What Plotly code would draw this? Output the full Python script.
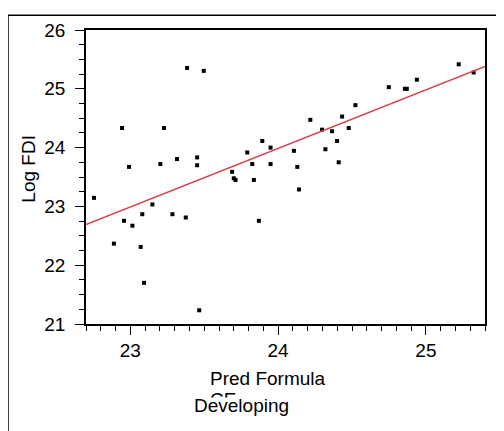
import plotly.graph_objects as go

pred = [22.754, 22.889, 22.944, 22.957, 22.991, 23.014, 23.07, 23.081, 23.093, 23.149,
        23.203, 23.228, 23.285, 23.316, 23.375, 23.384, 23.452, 23.452, 23.466, 23.497,
        23.689, 23.70, 23.712, 23.791, 23.825, 23.836, 23.87, 23.893, 23.949, 23.949,
        24.107, 24.13, 24.141, 24.218, 24.297, 24.32, 24.365, 24.399, 24.41, 24.433,
        24.478, 24.523, 24.749, 24.858, 24.871, 24.939, 25.222, 25.323]
log_fdi = [23.145, 22.367, 24.333, 22.755, 23.672, 22.672, 22.311, 22.867, 21.70, 23.033,
           23.72, 24.333, 22.867, 23.805, 22.811, 25.355, 23.833, 23.70, 21.233, 25.305,
           23.588, 23.478, 23.45, 23.917, 23.72, 23.45, 22.755, 24.112, 24.0, 23.72,
           23.945, 23.672, 23.288, 24.472, 24.305, 23.972, 24.278, 24.112, 23.75, 24.528,
           24.333, 24.722, 25.028, 25.0, 25.0, 25.155, 25.417, 25.278]
fit_x = [22.7, 25.4]
fit_y = [22.69, 25.38]

FONT = "Liberation Sans, Arial, sans-serif"
FS = 19

fig = go.Figure()
fig.add_trace(go.Scatter(x=pred, y=log_fdi, mode="markers",
                         marker=dict(symbol="square", size=4, color="black"),
                         showlegend=False))
fig.add_trace(go.Scatter(x=fit_x, y=fit_y, mode="lines",
                         line=dict(color="#d9414f", width=1.6), showlegend=False))

axis_common = dict(showline=True, linecolor="black", linewidth=1.6, mirror=True,
                   showgrid=False, zeroline=False, ticks="outside", ticklen=9,
                   tickwidth=1.3, tickcolor="black",
                   tickfont=dict(family=FONT, size=FS, color="black"))
fig.update_xaxes(range=[22.7, 25.4], tickvals=[23, 24, 25], ticktext=["23", "24", "25"],
                 minor=dict(dtick=0.1, tick0=22.7, ticks="outside", ticklen=5,
                            tickwidth=1.3, tickcolor="black", showgrid=False),
                 ticklabelstandoff=-1, **axis_common)
fig.update_yaxes(range=[21, 26], tickvals=[21, 22, 23, 24, 25, 26],
                 minor=dict(dtick=0.25, tick0=21, ticks="outside", ticklen=5,
                            tickwidth=1.3, tickcolor="black", showgrid=False),
                 ticklabelstandoff=6, **axis_common)

# page body has an 8px margin; figure sized so the page is 504x431
OFF = 8
W, H = 504 - OFF, 431 - OFF
L, T = 86 - OFF, 25 - OFF
R = W - (485 - OFF)
B = H - (324 - OFF)
pw, ph = W - L - R, H - T - B


def px(xp):
    return (xp - OFF - L) / pw


def py(yp):
    return (H - B - (yp - OFF)) / ph


fig.add_shape(type="rect", xref="paper", yref="paper",
              x0=px(8), x1=px(530), y0=py(470), y1=py(10),
              line=dict(color="black", width=1.5), fillcolor="rgba(0,0,0,0)")

annots = [
    dict(text="Log FDI", x=px(29), y=py(166), textangle=-90,
         xanchor="center", yanchor="middle"),
    dict(text="Pred Formula", x=px(208), y=py(379), xanchor="left", yanchor="middle"),
    dict(text="CE", x=px(208), y=py(401), xanchor="left", yanchor="middle"),
    dict(text=" ", x=px(200), y=py(398), xanchor="left", yanchor="top",
         width=60, height=25, bgcolor="white", borderpad=0),
    dict(text="Developing", x=px(192), y=py(407), xanchor="left", yanchor="middle"),
]
for a in annots:
    fig.add_annotation(xref="paper", yref="paper", showarrow=False,
                       font=dict(family=FONT, size=FS, color="black"), **a)

fig.update_layout(width=W, height=H, margin=dict(l=L, r=R, t=T, b=B),
                  plot_bgcolor="white", paper_bgcolor="white")

fig.write_html("out.html")
